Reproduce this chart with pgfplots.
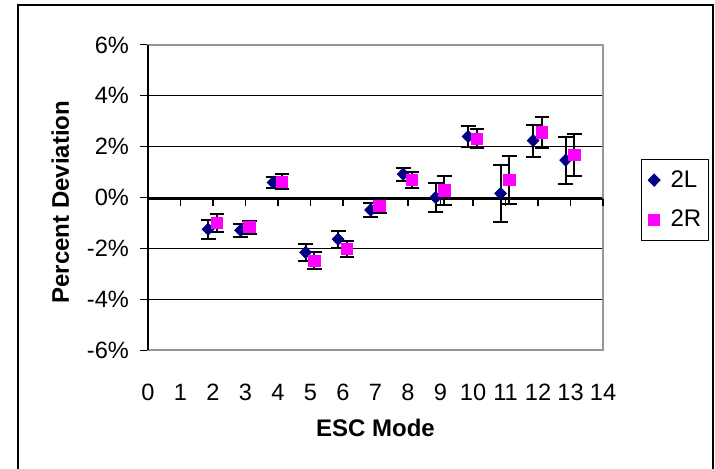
\documentclass[border=0pt]{standalone}
\usepackage{fontspec}
\setmainfont{Liberation Sans}
\usepackage{pgfplots}
\usepackage{pgfplotstable}
\pgfplotsset{compat=1.18}
\definecolor{navyblue}{RGB}{0,0,128}
\definecolor{hotpink}{RGB}{255,0,255}
\definecolor{boxgray}{RGB}{150,150,150}

% series 2L, plotted slightly left of each mode
\pgfplotstableread{
x     y      e
1.85  -1.25  0.37
2.85  -1.29  0.26
3.85   0.59  0.23
4.85  -2.16  0.34
5.85  -1.64  0.34
6.85  -0.49  0.27
7.85   0.92  0.26
8.85   0.00  0.59
9.85   2.40  0.41
10.85  0.16  1.11
11.85  2.24  0.63
12.85  1.47  0.92
}\leftdata

% series 2R, plotted slightly right of each mode
\pgfplotstableread{
x     y      e
2.12  -1.00  0.37
3.12  -1.17  0.26
4.12   0.62  0.30
5.12  -2.49  0.33
6.12  -2.03  0.31
7.12  -0.33  0.29
8.12   0.69  0.31
9.12   0.28  0.56
10.12  2.31  0.37
11.12  0.70  0.95
12.12  2.56  0.60
13.12  1.67  0.81
}\rightdata

\begin{document}
\begin{tikzpicture}
\path[use as bounding box, clip] (0pt,0pt) rectangle (357.5pt,234pt);
\draw[line width=1.2pt] (9pt,-10pt) -- (9pt,231.5pt) -- (356.5pt,231.5pt) -- (356.5pt,-10pt);
\begin{axis}[
  at={(74pt,59pt)}, anchor=south west,
  width=227.5pt, height=152.5pt, scale only axis,
  xmin=0, xmax=14, ymin=-6, ymax=6,
  xtick={0,...,14},
  xticklabels={0,1,2,3,4,5,6,7,8,9,10,11,12,13,14},
  ytick={-6,-4,-2,0,2,4,6},
  yticklabels={-6\%,-4\%,-2\%,0\%,2\%,4\%,6\%},
  xtick style={draw=none},
  ytick pos=left, tick align=outside,
  major tick length=4pt,
  ytick style={black, line width=0.5pt},
  axis line style={boxgray, line width=1pt},
  ymajorgrids, grid style={black, line width=0.5pt},
  tick label style={font=\fontsize{11.8}{13}\selectfont},
  xticklabel style={anchor=center, yshift=-17pt},
  yticklabel style={xshift=-2pt},
  every axis x label/.style={at={(axis description cs:0.5,-0.256)}, anchor=center},
  every axis y label/.style={at={(axis description cs:-0.193,0.485)}, rotate=90, anchor=center},
  label style={font=\bfseries\fontsize{12}{14}\selectfont},
  xlabel={ESC Mode}, ylabel={Percent Deviation},
  legend style={at={(rel axis cs:1.0835,0.627)}, anchor=north west,
    draw=black, line width=0.5pt, fill=white,
    font=\fontsize{12}{14}\selectfont,
    inner xsep=1pt, inner ysep=3.5pt, row sep=6pt,
    nodes={inner xsep=2.5pt}},
  legend cell align=left,
  legend image code/.code={\path[draw=none, fill=none] (-2.5pt,0pt) -- (8.5pt,0pt); \draw[#1] plot coordinates {(0.1cm,0cm)};},
  clip=false,
]
\draw[black, line width=0.6pt] (axis cs:0,-6) -- (axis cs:0,6);
\draw[black, line width=0.8pt] (axis cs:0,-0.07) -- (axis cs:14,-0.07);
\pgfplotsinvokeforeach{0,...,14}{\draw[black, line width=0.6pt] (axis cs:#1,-0.07) -- ++(0pt,-3.5pt);}
\addplot[only marks, mark=diamond*, mark size=3pt, color=navyblue,
  mark options={xscale=1.3},
  error bars/.cd, y dir=both, y explicit,
  error bar style={black, line width=1pt},
  error mark options={rotate=90, mark size=3.7pt, black, line width=1pt}]
  table[x=x, y=y, y error=e] {\leftdata};
\addlegendentry{2L}
\addplot[only marks, mark=square*, mark size=2.8pt, color=hotpink,
  error bars/.cd, y dir=both, y explicit,
  error bar style={black, line width=1pt},
  error mark options={rotate=90, mark size=3.7pt, black, line width=1pt}]
  table[x=x, y=y, y error=e] {\rightdata};
\addlegendentry{2R}
\end{axis}
\end{tikzpicture}
\end{document}
